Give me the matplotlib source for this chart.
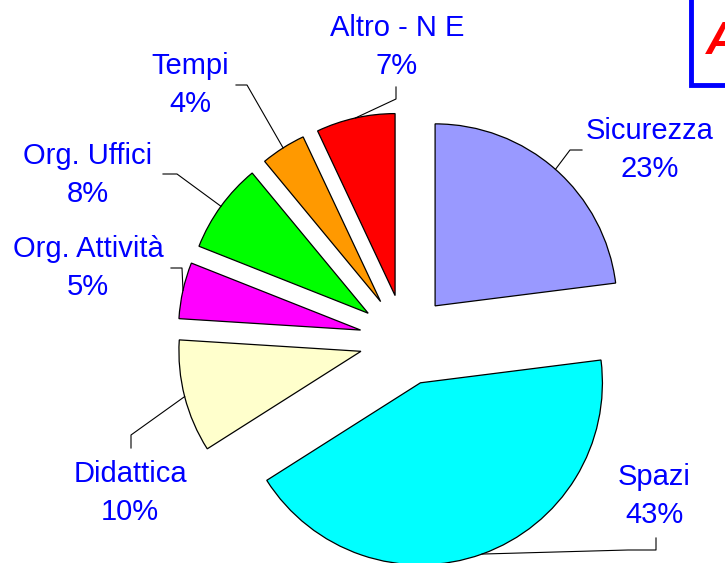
import numpy as np
import matplotlib
matplotlib.use("Agg")
import matplotlib.pyplot as plt
from matplotlib.patches import Rectangle

labels = ["Sicurezza", "Spazi", "Didattica", "Org. Attività", "Org. Uffici", "Tempi", "Altro - N E"]
values = [23, 43, 10, 5, 8, 4, 7]
colors = ["#9999FF", "#00FFFF", "#FFFFCC", "#FF00FF", "#00FF00", "#FF9900", "#FF0000"]

# label block centres and leader-line elbows, in image pixels (x right, y down)
label_pos = [(650, 150), (654, 496), (130, 493), (88, 268), (88, 175), (190, 85), (397, 47)]
elbows = [
    [(570, 150), (582, 150)],
    [(628, 550), (656, 550), (656, 538)],
    [(131, 435), (131, 448)],
    [(182, 268), (171, 268)],
    [(177, 174), (163, 174)],
    [(247, 85), (236, 85)],
    [(396, 99), (396, 87)],
]

W, H = 725, 563
CX, CY, R = 405, 340, 182


def px(x, y):
    return (x - CX) / R, (CY - y) / R


plt.rcParams["font.family"] = ["Liberation Sans", "DejaVu Sans"]
fig = plt.figure(figsize=(W / 100, H / 100), dpi=100)
ax = fig.add_axes([0, 0, 1, 1])

wedges, _ = ax.pie(values, colors=colors, startangle=90, counterclock=False,
                   explode=[0.25] * len(values), radius=1,
                   wedgeprops=dict(edgecolor="black", linewidth=0.9))

for w, lab, v, pos, elb in zip(wedges, labels, values, label_pos, elbows):
    mid = np.deg2rad((w.theta1 + w.theta2) / 2)
    ax0 = w.center[0] + w.r * np.cos(mid)
    ay0 = w.center[1] + w.r * np.sin(mid)
    pts = [(ax0, ay0)] + [px(*p) for p in elb]
    ax.plot([p[0] for p in pts], [p[1] for p in pts], color="black", lw=0.8)
    tx, ty = px(*pos)
    ax.text(tx, ty, f"{lab}\n{v}%", ha="center", va="center", multialignment="center",
            fontsize=21, color="#0000FF", linespacing=1.42)

# partially visible title box at top right (cut by the image edge, as in the original)
x0, y0 = px(691, 85)
x1, y1 = px(740, -5)
ax.add_patch(Rectangle((x0, y0), x1 - x0, y1 - y0, facecolor="white",
                       edgecolor="#0000FF", linewidth=3.5, clip_on=False))
ax.text(*px(706, 42), "A", color="#FF0000", fontsize=33, fontweight="bold",
        fontstyle="italic", ha="left", va="center")

ax.set_xlim(px(0, 0)[0], px(W, 0)[0])
ax.set_ylim(px(0, H)[1], px(0, 0)[1])
ax.set_aspect("equal")
ax.axis("off")

fig.savefig("out.png", dpi=100)
